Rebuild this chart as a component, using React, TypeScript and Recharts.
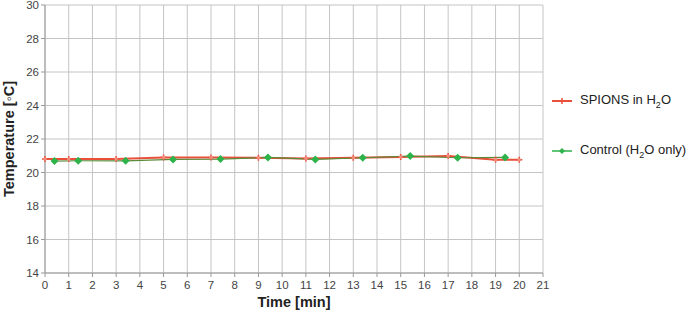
import React from "react";
import { LineChart, Line, XAxis, YAxis, CartesianGrid, Label } from "recharts";

const spionsTime = [0, 1, 3, 5, 7, 9, 11, 13, 15, 17, 19, 20];
const spionsTemp = [20.8, 20.8, 20.8, 20.9, 20.9, 20.88, 20.84, 20.88, 20.92, 20.98, 20.76, 20.76];
const controlTime = [0.4, 1.4, 3.4, 5.4, 7.4, 9.4, 11.4, 13.4, 15.4, 17.4, 19.4];
const controlTemp = [20.68, 20.7, 20.7, 20.78, 20.8, 20.9, 20.78, 20.88, 20.98, 20.88, 20.9];
const xTicks = Array.from({ length: 22 }, (_, i) => i);
const yTicks = [14, 16, 18, 20, 22, 24, 26, 28, 30];

const spions = spionsTime.map((t, i) => ({ t, v: spionsTemp[i] }));
const control = controlTime.map((t, i) => ({ t, v: controlTemp[i] }));

const RED = "#e8503a";
const GREEN = "#2db34a";
const FONT = "'Liberation Sans', Arial, sans-serif";

const Star = (props: any) => {
  const { cx, cy } = props;
  if (cx == null || cy == null) return null;
  return (
    <g>
      <path d={`M${cx - 3},${cy}L${cx + 3},${cy}M${cx},${cy - 3}L${cx},${cy + 3}`} stroke={RED} strokeWidth={1.5} />
      <circle cx={cx} cy={cy} r={1.8} fill="#f08a7a" />
    </g>
  );
};

const Diamond = (props: any) => {
  const { cx, cy } = props;
  if (cx == null || cy == null) return null;
  return <path d={`M${cx},${cy - 4}L${cx + 4},${cy}L${cx},${cy + 4}L${cx - 4},${cy}Z`} fill={GREEN} />;
};

export default function App() {
  return (
    <div style={{ position: "absolute", left: 0, top: 0, width: 698, height: 315, background: "#fff", fontFamily: FONT }}>
      <LineChart width={698} height={315} margin={{ top: 5, right: 155, left: 0, bottom: 0 }}>
        <CartesianGrid stroke="#c4c4c4" strokeWidth={1} />
        <XAxis
          type="number"
          dataKey="t"
          domain={[0, 21]}
          ticks={xTicks}
          interval={0}
          height={42}
          tick={{ fontSize: 11.5, fill: "#444", fontFamily: FONT, dy: 2 }}
          tickSize={4}
          stroke="#999"
        >
          <Label value="Time [min]" position="insideBottom" offset={8} style={{ fontSize: 14.5, fontWeight: "bold", fill: "#222", fontFamily: FONT }} />
        </XAxis>
        <YAxis
          type="number"
          domain={[14, 30]}
          ticks={yTicks}
          interval={0}
          width={45}
          tick={{ fontSize: 11.5, fill: "#444", fontFamily: FONT }}
          tickSize={4}
          stroke="#999"
        >
          <Label
            value="Temperature [◦C]"
            angle={-90}
            position="insideLeft"
            offset={9}
            style={{ fontSize: 14.5, fontWeight: "bold", fill: "#222", fontFamily: FONT, textAnchor: "middle" }}
          />
        </YAxis>
        <Line data={spions} dataKey="v" stroke={RED} strokeWidth={2} dot={<Star />} isAnimationActive={false} />
        <Line data={control} dataKey="v" stroke="#5a8a3a" strokeWidth={1.2} dot={<Diamond />} isAnimationActive={false} />
      </LineChart>
      <div style={{ position: "absolute", left: 552, top: 92, fontSize: 13, color: "#222", display: "flex", alignItems: "center" }}>
        <svg width={20} height={10} style={{ marginRight: 8 }}>
          <line x1={0} y1={5} x2={20} y2={5} stroke={RED} strokeWidth={2} />
          <path d="M7,5L13,5M10,2L10,8" stroke={RED} strokeWidth={1.5} />
        </svg>
        <span>SPIONS in H<sub style={{ fontSize: 9 }}>2</sub>O</span>
      </div>
      <div style={{ position: "absolute", left: 552, top: 142, fontSize: 13, color: "#222", display: "flex", alignItems: "center" }}>
        <svg width={20} height={10} style={{ marginRight: 8 }}>
          <line x1={0} y1={5} x2={20} y2={5} stroke={GREEN} strokeWidth={1.5} />
          <path d="M10,2L13,5L10,8L7,5Z" fill={GREEN} />
        </svg>
        <span>Control (H<sub style={{ fontSize: 9 }}>2</sub>O only)</span>
      </div>
    </div>
  );
}
